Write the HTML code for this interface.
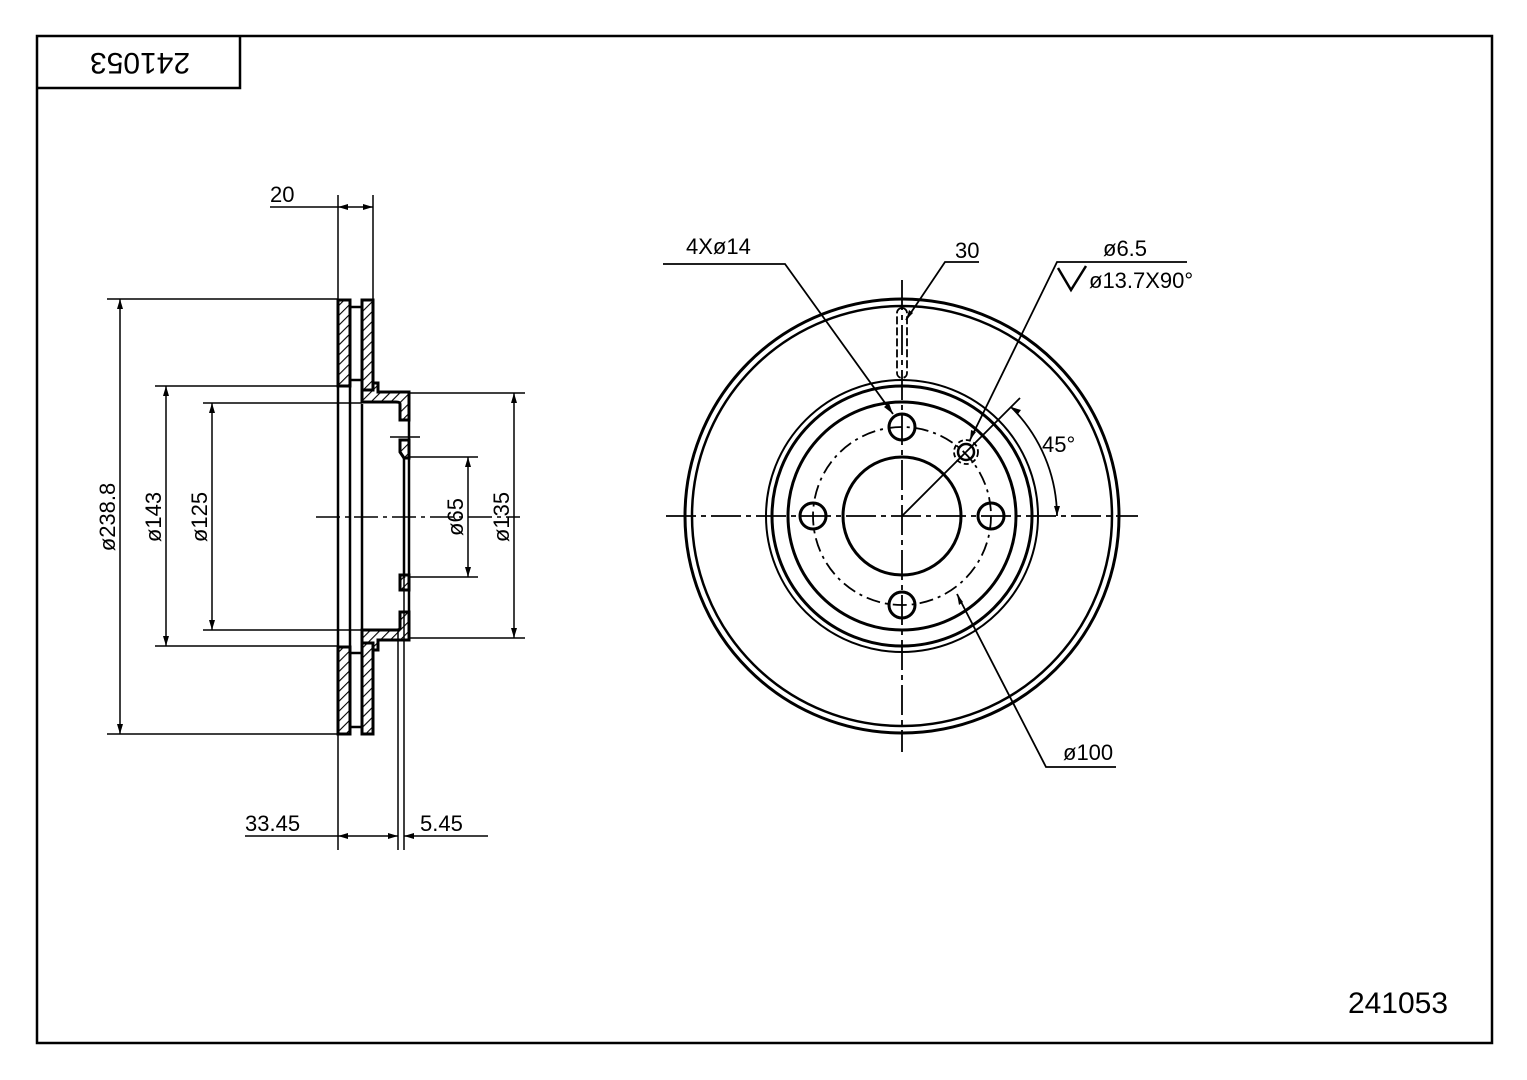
<!DOCTYPE html>
<html><head><meta charset="utf-8"><style>body{margin:0;background:#fff}svg{display:block}text{font-family:"Liberation Sans","DejaVu Sans",sans-serif;font-size:22px;fill:#000}</style></head><body>
<svg width="1527" height="1080" viewBox="0 0 1527 1080" xmlns="http://www.w3.org/2000/svg">
<defs><pattern id="h" width="7" height="7" patternUnits="userSpaceOnUse" patternTransform="rotate(45)"><rect width="7" height="7" fill="#fff"/><line x1="0" y1="0" x2="0" y2="7" stroke="#000" stroke-width="2.2"/></pattern></defs>
<g fill="none" stroke="#000" stroke-width="2">
<rect x="37" y="36" width="1455" height="1007" stroke-width="2.5"/>
<path d="M37 88 H240 V36" stroke-width="2.5"/>
</g>
<text x="140" y="77" text-anchor="middle" transform="rotate(180 140 65)" style="font-size:30px">241053</text>
<text x="1398" y="1013" text-anchor="middle" style="font-size:30px">241053</text>

<!-- LEFT section -->
<g stroke="#000" stroke-width="3" fill="url(#h)">
<rect x="338" y="300" width="12" height="86"/>
<rect x="362" y="300" width="11" height="90"/>
<rect x="338" y="647" width="12" height="87"/>
<rect x="362" y="643" width="11" height="91"/>
<path d="M362 390 H373 V383 H378 V392 H409 V420 H400 V404 Q400 402 396 402 H362 Z"/>
<path d="M362 643 H373 V650 H378 V640 H409 V612 H400 V628 Q400 630 396 630 H362 Z"/>
<path d="M400 440 L409 440 V458 H404 L400 452 Z"/>
<path d="M400 575 L409 575 V590 H400 Z"/>
</g>
<g stroke="#000" stroke-width="2.5" fill="none">
<line x1="350" y1="307" x2="362" y2="307"/><line x1="350" y1="380" x2="362" y2="380"/>
<line x1="350" y1="653" x2="362" y2="653"/><line x1="350" y1="727" x2="362" y2="727"/>
<line x1="362" y1="404" x2="362" y2="630"/>
<line x1="338" y1="386" x2="338" y2="647"/><line x1="350" y1="386" x2="350" y2="647"/>
<line x1="404" y1="458" x2="404" y2="578"/><line x1="409" y1="420" x2="409" y2="612"/>
</g>
<g stroke="#000" stroke-width="1.5" fill="none">
<line x1="338" y1="300" x2="338" y2="195"/><line x1="373" y1="300" x2="373" y2="195"/>
<line x1="270" y1="207" x2="338" y2="207"/><line x1="338" y1="207" x2="373" y2="207"/>
<line x1="107" y1="299" x2="338" y2="299"/><line x1="107" y1="734" x2="338" y2="734"/>
<line x1="120" y1="299" x2="120" y2="734"/>
<line x1="155" y1="386" x2="338" y2="386"/><line x1="155" y1="646" x2="338" y2="646"/>
<line x1="166" y1="386" x2="166" y2="646"/>
<line x1="203" y1="403" x2="362" y2="403"/><line x1="203" y1="630" x2="362" y2="630"/>
<line x1="212" y1="403" x2="212" y2="630"/>
<line x1="409" y1="457" x2="478" y2="457"/><line x1="409" y1="577" x2="478" y2="577"/>
<line x1="468" y1="457" x2="468" y2="577"/>
<line x1="409" y1="393" x2="525" y2="393"/><line x1="409" y1="638" x2="525" y2="638"/>
<line x1="514" y1="393" x2="514" y2="638"/>
<line x1="338" y1="734" x2="338" y2="850"/><line x1="398" y1="630" x2="398" y2="850"/><line x1="404" y1="578" x2="404" y2="850"/>
<line x1="245" y1="836" x2="398" y2="836"/><line x1="404" y1="836" x2="488" y2="836"/>
<line x1="390" y1="437" x2="420" y2="437"/>
<line x1="316" y1="517" x2="520" y2="517" stroke-dasharray="24,5,4,5"/>
</g>
<g fill="#000">
<path d="M338 207 l10 -3 v6z"/><path d="M373 207 l-10 -3 v6z"/>
<path d="M120 299 l-3 10 h6z"/><path d="M120 734 l-3 -10 h6z"/>
<path d="M166 386 l-3 10 h6z"/><path d="M166 646 l-3 -10 h6z"/>
<path d="M212 403 l-3 10 h6z"/><path d="M212 630 l-3 -10 h6z"/>
<path d="M468 457 l-3 10 h6z"/><path d="M468 577 l-3 -10 h6z"/>
<path d="M514 393 l-3 10 h6z"/><path d="M514 638 l-3 -10 h6z"/>
<path d="M338 836 l10 -3 v6z"/><path d="M398 836 l-10 -3 v6z"/><path d="M404 836 l10 -3 v6z"/>
</g>
<text x="270" y="202">20</text>
<text x="245" y="831">33.45</text>
<text x="420" y="831">5.45</text>
<text transform="translate(115 517) rotate(-90)" text-anchor="middle">ø238.8</text>
<text transform="translate(161 517) rotate(-90)" text-anchor="middle">ø143</text>
<text transform="translate(207 517) rotate(-90)" text-anchor="middle">ø125</text>
<text transform="translate(463 517) rotate(-90)" text-anchor="middle">ø65</text>
<text transform="translate(509 517) rotate(-90)" text-anchor="middle">ø135</text>

<!-- RIGHT view -->
<g stroke="#000" fill="none" stroke-width="3">
<circle cx="902" cy="516" r="217"/>
<circle cx="902" cy="516" r="210" stroke-width="2.5"/>
<circle cx="902" cy="516" r="136" stroke-width="2"/>
<circle cx="902" cy="516" r="130"/>
<circle cx="902" cy="516" r="114"/>
<circle cx="902" cy="516" r="59"/>
<circle cx="902" cy="427" r="13"/><circle cx="902" cy="605" r="13"/>
<circle cx="813" cy="516" r="13"/><circle cx="991" cy="516" r="13"/>
<circle cx="966" cy="452" r="8" stroke-width="2.5"/>
</g>
<g stroke="#000" fill="none" stroke-width="1.8">
<circle cx="902" cy="516" r="89" stroke-dasharray="14,5,3,5"/>
<circle cx="966" cy="452" r="12" stroke-dasharray="5,3"/>
<rect x="897" y="308" width="10" height="70" rx="5" stroke-dasharray="8,3"/>
<line x1="666" y1="516" x2="1138" y2="516" stroke-dasharray="30,5,5,5"/>
<line x1="902" y1="280" x2="902" y2="752" stroke-dasharray="30,5,5,5"/>
<line x1="902" y1="516" x2="966" y2="452"/>
<line x1="966" y1="452" x2="1020" y2="398"/>
<path d="M1011 407 A155 155 0 0 1 1057 516"/>
<polyline points="663,264 785,264 893,414"/>
<polyline points="979,262 945,262 906,320"/>
<polyline points="1187,262 1057,262 970,440"/>
<polyline points="1116,767 1046,767 957,594"/>
</g>
<g fill="#000">
<path d="M893 414 l-9 -7 l5 -4z"/>
<path d="M906 320 l3 -10 l4 3z"/>
<path d="M970 440 l1 -10 l5 2z"/>
<path d="M957 594 l2 11 l4 -3z"/>
<path d="M1011 407 l7 7 l3 -4z"/>
<path d="M1057 516 l-3 -10 h6z"/>
</g>
<path d="M1058 268 L1071 290 L1086 266" fill="none" stroke="#000" stroke-width="2.5"/>
<text x="686" y="254">4Xø14</text>
<text x="955" y="258">30</text>
<text x="1103" y="256">ø6.5</text>
<text x="1089" y="288">ø13.7X90°</text>
<text x="1042" y="452">45°</text>
<text x="1063" y="760">ø100</text>
</svg>
</body></html>
